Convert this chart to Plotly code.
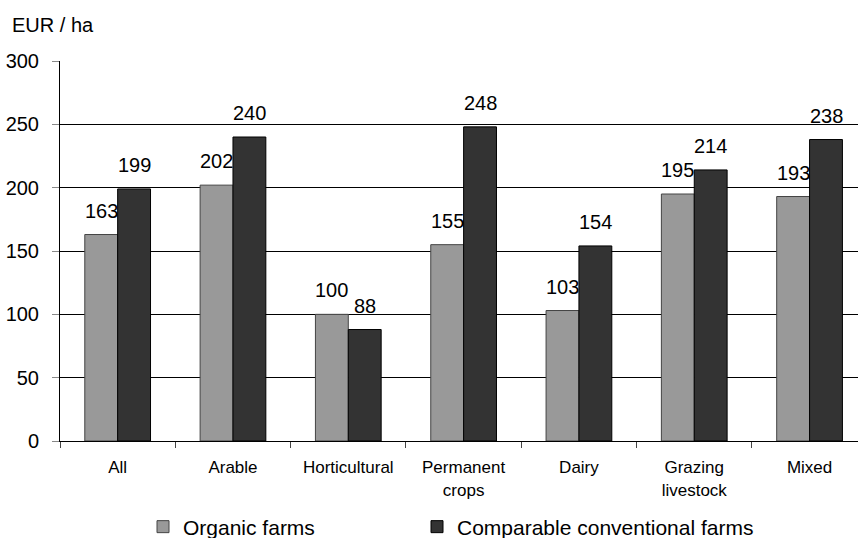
import plotly.graph_objects as go

categories = ["All", "Arable", "Horticultural", "Permanent<br>crops", "Dairy", "Grazing<br>livestock", "Mixed"]
organic = [163, 202, 100, 155, 103, 195, 193]
conventional = [199, 240, 88, 248, 154, 214, 238]
y_ticks = [0, 50, 100, 150, 200, 250, 300]

FONT = "Liberation Sans, Arial, sans-serif"
PLOT_W = 858 - 60
PLOT_H = 538 - 61 - 97

fig = go.Figure()
fig.add_trace(go.Bar(
    x=categories, y=organic, name="Organic farms", legend="legend",
    marker=dict(color="#999999", line=dict(color="#444444", width=1)),
))
fig.add_trace(go.Bar(
    x=categories, y=conventional, name="Comparable conventional farms", legend="legend2",
    marker=dict(color="#333333", line=dict(color="#000000", width=1)),
))

# value labels above each bar (grouped bars sit ~16.5 px either side of the category centre)
annotations = []
for series, shift in ((organic, -16.5), (conventional, 16.5)):
    for cat, val in zip(categories, series):
        annotations.append(dict(
            x=cat, y=val, xref="x", yref="y", text=str(val),
            xshift=shift, yshift=11, xanchor="center", yanchor="bottom",
            showarrow=False, font=dict(size=20, family=FONT, color="black"),
        ))

annotations.append(dict(
    text="EUR / ha", xref="paper", yref="paper",
    x=(10 - 60) / PLOT_W, y=(441 - 25) / PLOT_H, xanchor="left", yanchor="middle",
    showarrow=False, font=dict(size=20, family=FONT, color="black"),
))

legend_style = dict(
    orientation="h", xanchor="left",
    y=(441 - 527) / PLOT_H, yanchor="middle",
    font=dict(size=21, family=FONT, color="black"),
    bgcolor="rgba(0,0,0,0)",
)

fig.update_layout(
    width=858, height=538,
    margin=dict(l=60, r=0, t=61, b=97, autoexpand=False),
    paper_bgcolor="white", plot_bgcolor="white",
    barmode="group", bargap=0.43, bargroupgap=0,
    font=dict(family=FONT, color="black"),
    showlegend=True,
    legend=dict(x=(143 - 60) / PLOT_W, **legend_style),
    legend2=dict(x=(417 - 60) / PLOT_W, **legend_style),
    annotations=annotations,
)

fig.update_xaxes(
    range=[-0.5, 6.42],
    showline=True, linecolor="black", linewidth=1,
    ticks="outside", tickson="boundaries", ticklen=6, tickcolor="#444444",
    tickfont=dict(size=17, family=FONT, color="black"),
    ticklabelstandoff=11,
    showgrid=False,
)
fig.update_yaxes(
    range=[0, 300], tickvals=y_ticks,
    showline=True, linecolor="black", linewidth=1,
    ticks="outside", ticklen=7, tickcolor="#888888",
    tickfont=dict(size=20, family=FONT, color="black"),
    ticklabelstandoff=9,
    showgrid=True, gridcolor="black", gridwidth=1,
    zeroline=False,
)

fig.write_html("out.html")
